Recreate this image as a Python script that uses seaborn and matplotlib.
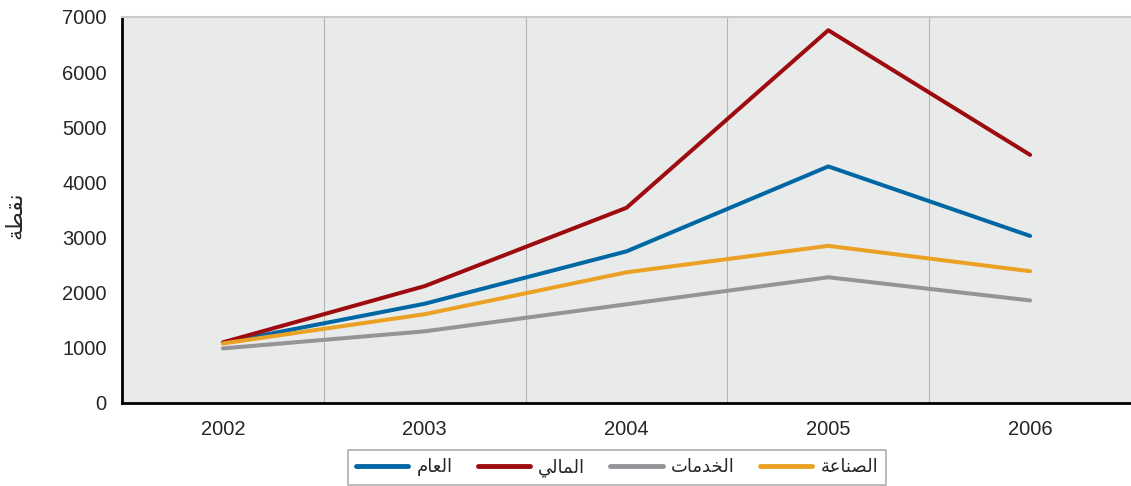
import numpy as np
import pandas as pd
import matplotlib
matplotlib.use('Agg')
import matplotlib.pyplot as plt
import seaborn as sns

# data
years = [2002, 2003, 2004, 2005, 2006]
general = [1090, 1800, 2750, 4290, 3030]     # العام
financial = [1100, 2120, 3540, 6760, 4500]   # المالي
services = [990, 1300, 1790, 2280, 1860]     # الخدمات
industry = [1080, 1610, 2370, 2850, 2390]    # الصناعة

names = ['العام', 'المالي', 'الخدمات', 'الصناعة']
colors = ['#0067a5', '#9d0b0f', '#939598', '#eaa124']
y_label = 'نقطة'

# minimal arabic shaping (matplotlib has no text shaping)
FORMS = {
    'ا': ('\uFE8D', '\uFE8E', None, None),
    'ل': ('\uFEDD', '\uFEDE', '\uFEDF', '\uFEE0'),
    'ع': ('\uFEC9', '\uFECA', '\uFECB', '\uFECC'),
    'م': ('\uFEE1', '\uFEE2', '\uFEE3', '\uFEE4'),
    'ي': ('\uFEF1', '\uFEF2', '\uFEF3', '\uFEF4'),
    'خ': ('\uFEA5', '\uFEA6', '\uFEA7', '\uFEA8'),
    'د': ('\uFEA9', '\uFEAA', None, None),
    'ت': ('\uFE95', '\uFE96', '\uFE97', '\uFE98'),
    'ص': ('\uFEB9', '\uFEBA', '\uFEBB', '\uFEBC'),
    'ن': ('\uFEE5', '\uFEE6', '\uFEE7', '\uFEE8'),
    'ة': ('\uFE93', '\uFE94', None, None),
    'ق': ('\uFED5', '\uFED6', '\uFED7', '\uFED8'),
    'ط': ('\uFEC1', '\uFEC2', '\uFEC3', '\uFEC4'),
}

def shape(word):
    out = []
    n = len(word)
    for i, ch in enumerate(word):
        f = FORMS[ch]
        prev = i > 0 and FORMS[word[i-1]][2] is not None
        nxt = i < n - 1 and f[2] is not None
        if prev and nxt:
            out.append(f[3])
        elif prev:
            out.append(f[1])
        elif nxt:
            out.append(f[2])
        else:
            out.append(f[0])
    return ''.join(reversed(out))

rows = []
for name, vals in zip(names, [general, financial, services, industry]):
    for yr, v in zip(years, vals):
        rows.append({'year': yr, 'value': v, 'series': shape(name)})
df = pd.DataFrame(rows)

sns.set_style('white')
plt.rcParams['font.family'] = ['Liberation Sans', 'DejaVu Sans']

fig = plt.figure(figsize=(11.31, 4.86), dpi=100)
ax = fig.add_axes([122/1131, 1-403/486, 1-122/1131, 386/486])
ax.set_facecolor('#e9ebea')

palette = dict(zip([shape(n) for n in names], colors))
sns.lineplot(ax=ax, data=df, x='year', y='value', hue='series',
             hue_order=[shape(n) for n in names], palette=palette,
             linewidth=2.9, legend=False)

ax.set_xlim(2001.5, 2006.5)
ax.set_ylim(0, 7000)
ax.set_yticks(np.arange(0, 7001, 1000))
ax.set_xticks(years)
ax.set_xticks(np.arange(2002.5, 2006.5, 1), minor=True)
ax.set_xticklabels([str(y) for y in years])
ax.tick_params(axis='x', which='major', length=0, labelsize=14.5, pad=12)
ax.tick_params(axis='x', which='minor', length=6, width=1.5, color='black', direction='out')
ax.tick_params(axis='y', length=5, width=1.5, color='black', direction='out', labelsize=14.5, pad=6)
ax.grid(False)
ax.grid(axis='x', which='minor', color='#b4b4b4', linewidth=0.8)

for s in ['left', 'bottom']:
    ax.spines[s].set_color('black')
    ax.spines[s].set_linewidth(2)
ax.spines['top'].set_color('#c8c8c8')
ax.spines['top'].set_linewidth(1.5)
ax.spines['right'].set_visible(False)

ax.set_xlabel('')
ax.set_ylabel(shape(y_label), fontsize=16, family=['DejaVu Sans'])
ax.yaxis.set_label_coords(-97/1009, 0.487)

handles = [plt.Line2D([], [], color=c, linewidth=3.5) for c in colors]
leg = fig.legend(handles, [shape(n) for n in names], loc='upper center',
                 bbox_to_anchor=(617/1131, 1-450/486), ncol=4, frameon=True,
                 fancybox=False, edgecolor='#9a9a9a', handlelength=2.9,
                 handletextpad=0.45, columnspacing=1.4, borderpad=0.45,
                 borderaxespad=0,
                 prop={'family': ['DejaVu Sans'], 'size': 13})
leg.get_frame().set_linewidth(1.2)

fig.savefig('out.png', dpi=100)
